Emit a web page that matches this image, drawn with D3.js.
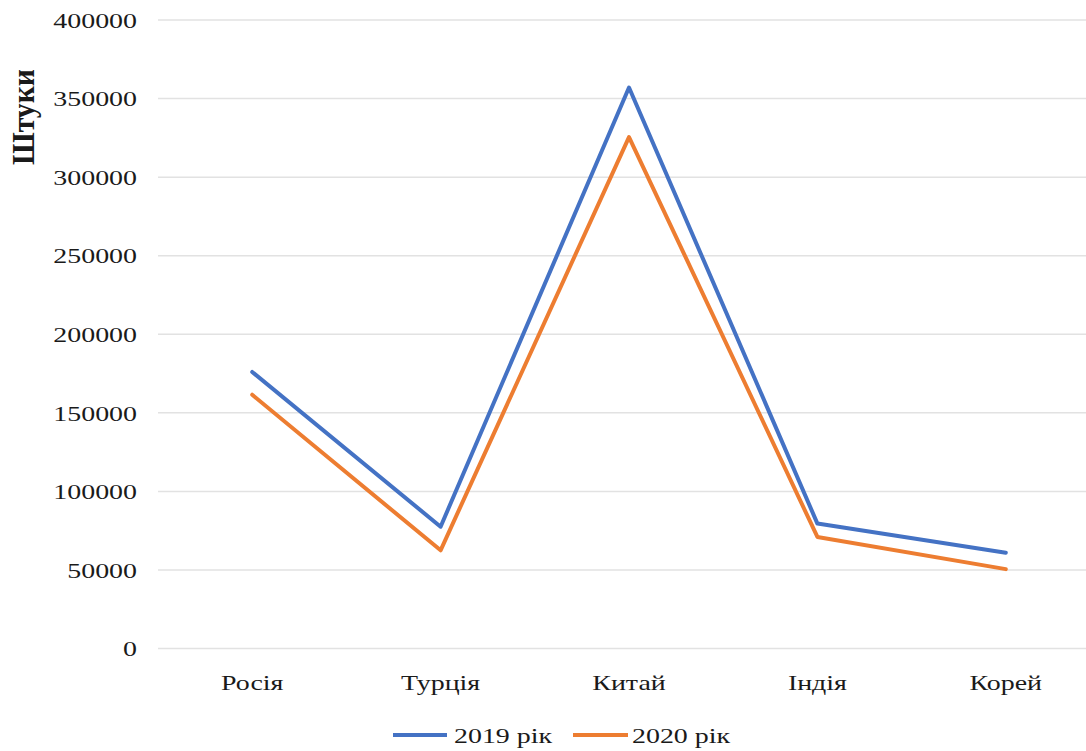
<!DOCTYPE html>
<html><head><meta charset="utf-8">
<script src="https://cdn.jsdelivr.net/npm/d3@7"></script>
<style>body{margin:0;background:#fff}svg{display:block}</style>
</head><body>
<svg id="c" width="1086" height="751"></svg>
<script>
const categories = ["Росія", "Турція", "Китай", "Індія", "Корей"];
const series2019 = [176000, 77500, 357000, 79500, 61000];
const series2020 = [161500, 62500, 325500, 71000, 50500];
const yTicks = [0, 50000, 100000, 150000, 200000, 250000, 300000, 350000, 400000];
const seriesNames = ["2019 рік", "2020 рік"];
const colors = ["#4472C4", "#ED7D31"];

const svg = d3.select("#c");
const W = 1086, H = 751;
const sx = 1.27;
const font = "'Liberation Serif','Times New Roman',serif";
const x = d3.scalePoint().domain(categories).range([158, 1100]).padding(0.5);
const y = d3.scaleLinear().domain([0, 400000]).range([648.5, 20]);

svg.append("rect").attr("width", W).attr("height", H).attr("fill", "#fff");

// gridlines
svg.append("g").selectAll("line").data(yTicks).join("line")
  .attr("x1", 158).attr("x2", W)
  .attr("y1", d => y(d)).attr("y2", d => y(d))
  .attr("stroke", "#e2e2e2").attr("stroke-width", 1.5);

// y tick labels
svg.append("g").selectAll("text").data(yTicks).join("text")
  .attr("transform", d => `translate(137,${y(d)}) scale(${sx},1)`)
  .attr("text-anchor", "end").attr("dy", "0.35em")
  .attr("font-family", font).attr("font-size", 22).attr("fill", "#1a1a1a")
  .text(d => d3.format("d")(d));

// x labels
svg.append("g").selectAll("text").data(categories).join("text")
  .attr("transform", d => `translate(${x(d)},690) scale(${sx},1)`)
  .attr("text-anchor", "middle")
  .attr("font-family", font).attr("font-size", 22).attr("fill", "#1a1a1a")
  .text(d => d);

// y title
svg.append("text")
  .attr("transform", "translate(34,117) rotate(-90) scale(1,1.27)")
  .attr("text-anchor", "middle")
  .attr("font-family", font).attr("font-size", 25).attr("font-weight", "bold").attr("fill", "#1a1a1a")
  .attr("textLength", 96).attr("lengthAdjust", "spacingAndGlyphs")
  .text("Штуки");

// lines
const line = d3.line().x((d, i) => x(categories[i])).y(d => y(d));
[series2019, series2020].forEach((s, k) => {
  svg.append("path").datum(s)
    .attr("d", line).attr("fill", "none")
    .attr("stroke", colors[k]).attr("stroke-width", 4)
    .attr("stroke-linejoin", "round").attr("stroke-linecap", "round");
});

// legend
const leg = [{x1: 393, x2: 447, tx: 454}, {x1: 573, x2: 628, tx: 632}];
leg.forEach((l, k) => {
  svg.append("line").attr("x1", l.x1).attr("x2", l.x2).attr("y1", 735).attr("y2", 735)
    .attr("stroke", colors[k]).attr("stroke-width", 4);
  svg.append("text").attr("transform", `translate(${l.tx},735) scale(${sx},1)`)
    .attr("dy", "0.35em")
    .attr("font-family", font).attr("font-size", 22).attr("fill", "#1a1a1a")
    .text(seriesNames[k]);
});
</script>
</body></html>
